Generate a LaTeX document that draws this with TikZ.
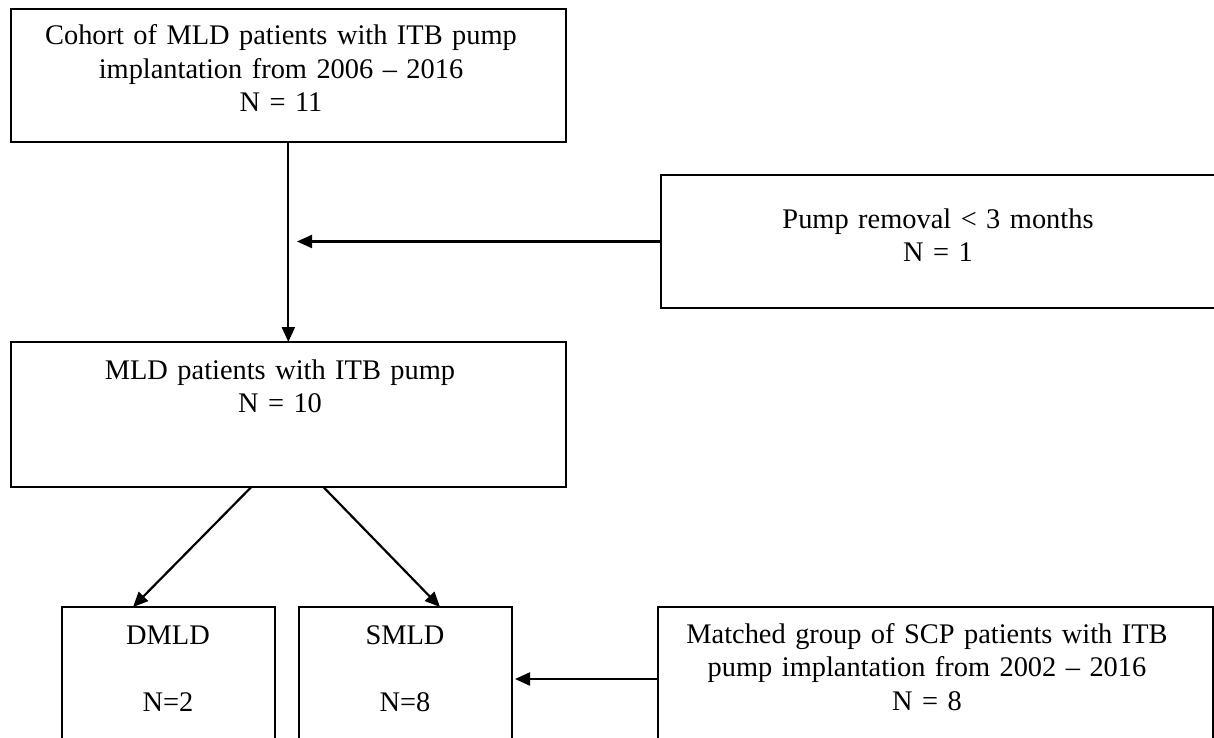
\documentclass[tikz,border=0pt]{standalone}
\usepackage{fontspec}
\setmainfont{Liberation Serif}
\usetikzlibrary{arrows.meta}
\begin{document}
\begin{tikzpicture}[x=1pt,y=-1pt,
  box/.style={draw, line width=2.2pt, inner sep=0pt, outer sep=0pt, anchor=north west},
  txt/.style={anchor=base, align=center, text width=640pt, inner sep=0pt,
              font=\fontsize{28.4}{33.5}\selectfont},
  arr/.style={line width=2.2pt, -{Triangle[length=15pt,width=13pt]}}]
\useasboundingbox (0,0) rectangle (1214,738);
\fill[white] (0,0) rectangle (1214,738);
\clip (0,0) rectangle (1214,738);
% boxes
\node[box, minimum width=555.3pt, minimum height=133pt] (top) at (10.7,9) {};
\node[box, minimum width=560pt, minimum height=133pt] (pump) at (661,175) {};
\node[box, minimum width=555.3pt, minimum height=145pt] (mid) at (10.7,342) {};
\node[box, minimum width=213pt, minimum height=160pt] (dmld) at (62,607) {};
\node[box, minimum width=213pt, minimum height=160pt] (smld) at (299,607) {};
\node[box, minimum width=555pt, minimum height=160pt] (match) at (658,607) {};
% texts
\node[txt] (ttop) at (281,45) {Cohort of MLD patients with ITB pump\\implantation from 2006 – 2016\\N = 11};
\node[txt] (tpump) at (938,228) {Pump removal < 3 months\\N = 1};
\node[txt] (tmid) at (280,379) {MLD patients with ITB pump\\N = 10};
\node[txt, text width=200pt] (tdmld) at (168,644) {DMLD\\\mbox{}\\N=2};
\node[txt, text width=200pt] (tsmld) at (405,644) {SMLD\\\mbox{}\\N=8};
\node[txt] (tmatch) at (927,643) {Matched group of SCP patients with ITB\\pump implantation from 2002 – 2016\\N = 8};
% connectors
\coordinate (pumpend) at (297,241.5);
\draw[arr] (top.south) -- (mid.north);
\draw[arr] (pump.west) -- (pumpend);
\draw[arr] ([xshift=-37pt]mid.south) -- ([xshift=71pt]dmld.north west);
\draw[arr] ([xshift=35pt]mid.south) -- ([xshift=141pt]smld.north west);
\draw[arr] ([yshift=-72pt]match.north west) -- ([xshift=3pt,yshift=-72pt]smld.north east);
\end{tikzpicture}
\end{document}
